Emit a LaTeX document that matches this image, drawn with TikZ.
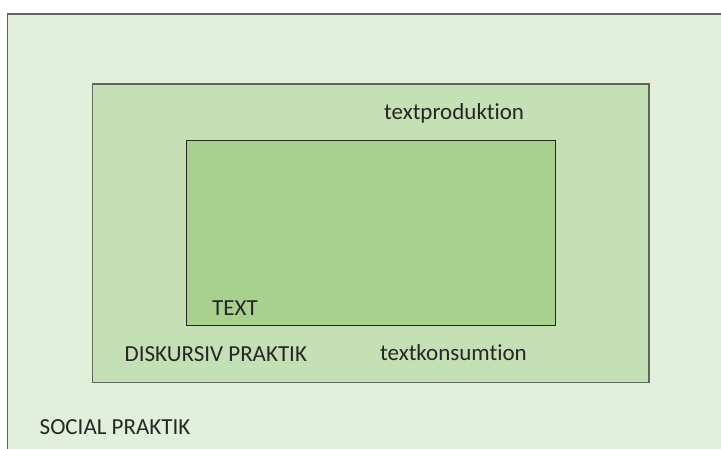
\documentclass[tikz,border=0pt]{standalone}
\usepackage{fontspec}
\setmainfont{Carlito}[Ligatures=NoCommon]
\definecolor{outerfill}{HTML}{E2EFDA}
\definecolor{midfill}{HTML}{C5E0B4}
\definecolor{innerfill}{HTML}{A9D18E}
\definecolor{boxline}{HTML}{5E665A}
\begin{document}
\begin{tikzpicture}[x=1pt,y=1pt,
  lbl/.style={anchor=base west,inner sep=0pt,font=\fontsize{23}{26}\selectfont,text=black!85},
  outerbox/.style={fill=outerfill,draw=boxline,line width=1.2pt},
  midbox/.style={fill=midfill,draw=boxline,line width=1.2pt},
  innerbox/.style={fill=innerfill,draw=black!85,line width=1pt}]
\useasboundingbox (0,0) rectangle (721,448);
\fill[white] (0,0) rectangle (721,448);
\clip (0,0) rectangle (721,448);
\draw[outerbox] (7.5,434) rectangle (740,-20);
\draw[midbox] (92.7,364) rectangle (649,65.3);
\draw[innerbox] (186.7,307.3) rectangle (555.3,123);
\node[lbl] (tp) at (384,328) {textproduktion};
\node[lbl] (tx) at (212,133) {TEXT};
\node[lbl] (dp) at (124.5,86.3) {DISKURSIV PRAKTIK};
\node[lbl] (tk) at (380,88) {textkonsumtion};
\node[lbl] (sp) at (39.5,14) {SOCIAL PRAKTIK};
\end{tikzpicture}
\end{document}
